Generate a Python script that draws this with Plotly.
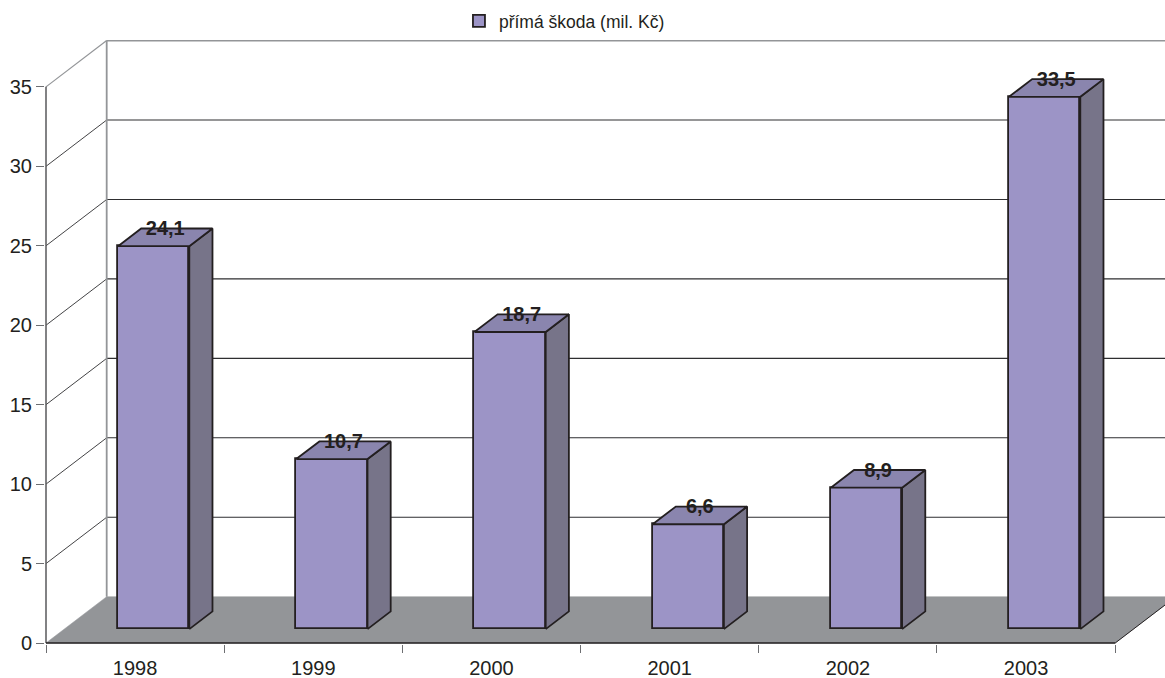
import plotly.graph_objects as go

years = ["1998", "1999", "2000", "2001", "2002", "2003"]
damage = [24.1, 10.7, 18.7, 6.6, 8.9, 33.5]
labels = ["24,1", "10,7", "18,7", "6,6", "8,9", "33,5"]
levels = [5, 10, 15, 20, 25, 30, 35]
series_name = "přímá škoda (mil. Kč)"

# Oblique "3D" projection, in axis units
DX, DY = 0.3406, 2.914      # full depth of the chart box
BAR_W = 0.400               # bar front width
F0, F1 = 0.30, 0.382        # bar front offset and bar depth, as fractions of depth
X_MAX = 6.0
X_RANGE = [-0.0056, 6.2795]
Y_RANGE = [-0.063, 37.95]
LABEL_DROP = 0.12           # data labels sit slightly below the top face's back edge

INK = "#231f20"
GRID = "#2e2e30"
WALL = "#939598"
FRONT = "#9c94c6"
TOP = "#8a85ae"
SIDE = "#777489"
FONT = "Liberation Sans"

xs = [i + 0.5 for i in range(len(years))]
fig = go.Figure()


def poly(px, py, fill=None, color=INK, width=1.0, axes=("x", "y")):
    fig.add_trace(go.Scatter(
        x=px, y=py, mode="lines", showlegend=False, hoverinfo="skip",
        xaxis=axes[0], yaxis=axes[1],
        fill="toself" if fill else None, fillcolor=fill,
        line=dict(color=color, width=width, simplify=False),
    ))


# back wall grid lines with diagonal returns to the axis
for lv in levels:
    top = lv == 35
    c = WALL if top else GRID
    poly([0, DX], [lv, lv + DY], color=c, width=1.2 if top else 0.9)
    poly([DX, X_RANGE[1]], [lv + DY, lv + DY], color=c, width=1.8 if top else 1.1)

# wall edge
poly([DX, DX], [DY, 35 + DY], color=WALL, width=1.8)

# floor
poly([0, DX, X_MAX + DX, X_MAX, 0], [0, DY, DY, 0, 0], fill=WALL, color=WALL, width=0.5)
poly([X_MAX, X_MAX + DX], [0, DY], color=INK, width=1)

# chart-box axis lines, which stop short of the wall's extent
poly([0, 0], [0, 35], color="#58595b", width=1.5)
poly([0, X_MAX], [0, 0], color=INK, width=1.5)

# bars: front faces are real bars, on an overlay above the floor
base = F0 * DY
xf = [x + F0 * DX + 0.002 for x in xs]
fig.add_trace(go.Bar(
    x=xf, y=damage, base=base, width=BAR_W, name=series_name,
    xaxis="x2", yaxis="y2", showlegend=True,
    marker=dict(color=FRONT, line=dict(color=INK, width=1.8)),
))

ov = ("x2", "y2")
bx, by = F1 * DX, F1 * DY
for x, v in zip(xf, damage):
    l, r = x - BAR_W / 2, x + BAR_W / 2
    b, h = base, base + v
    poly([r, r + bx, r + bx, r, r], [b, b + by, h + by, h, b], fill=SIDE, width=1.8, axes=ov)
    poly([l, l + bx, r + bx, r, l], [h, h + by, h + by, h, h], fill=TOP, width=1.8, axes=ov)

fig.add_trace(go.Scatter(
    x=[x + bx / 2 for x in xf],
    y=[base + v + by - LABEL_DROP for v in damage],
    text=labels, mode="text", textposition="middle center",
    textfont=dict(family=FONT, size=20, color=INK, weight="bold"),
    xaxis="x2", yaxis="y2", showlegend=False, hoverinfo="skip", cliponaxis=False,
))

fig.update_layout(
    width=1165, height=678, autosize=False,
    margin=dict(l=45, r=0, t=40, b=34, pad=0, autoexpand=False),
    paper_bgcolor="white", plot_bgcolor="rgba(0,0,0,0)",
    font=dict(family=FONT, color=INK),
    bargap=0,
    legend=dict(
        x=0.3696, y=1.0315, xanchor="left", yanchor="middle",
        bgcolor="rgba(0,0,0,0)", font=dict(size=17.5, color=INK, family=FONT),
    ),
    xaxis=dict(
        range=X_RANGE, showgrid=False, zeroline=False, showline=False,
        tickmode="array", tickvals=xs, ticktext=years, ticks="",
        tickfont=dict(size=20, color=INK), ticklabelstandoff=10,
        minor=dict(tickmode="array", tickvals=list(range(7)), ticks="outside",
                   ticklen=8, tickcolor="#6d6e71", tickwidth=1),
    ),
    yaxis=dict(
        range=Y_RANGE, showgrid=False, zeroline=False, showline=False,
        tickmode="array", tickvals=[0] + levels, ticks="outside",
        ticklen=8, tickcolor="#6d6e71", tickwidth=1,
        tickfont=dict(size=20, color=INK),
    ),
    xaxis2=dict(range=X_RANGE, overlaying="x", visible=False),
    yaxis2=dict(range=Y_RANGE, overlaying="y", visible=False),
)

# Drop the page's default 8 px body margin so the figure fills the window
fig.write_html("out.html", config={"displayModeBar": False},
               post_script="document.body.style.margin='0';")
